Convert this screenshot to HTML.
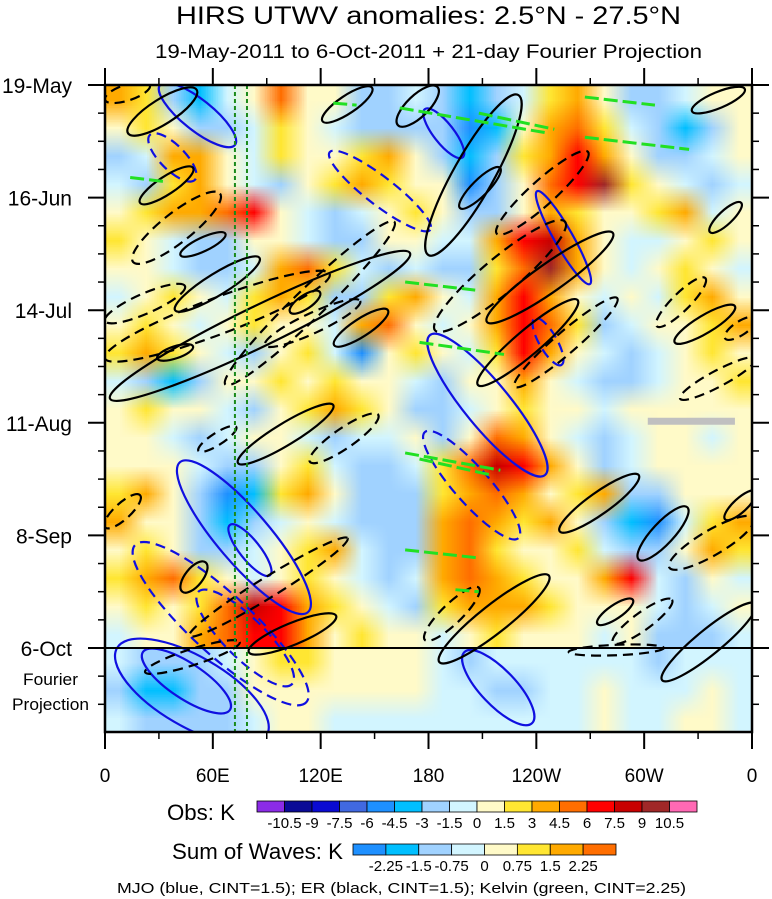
<!DOCTYPE html>
<html><head><meta charset="utf-8">
<style>
html,body{margin:0;padding:0;background:#fff;}
body{width:772px;height:899px;overflow:hidden;position:relative;font-family:"Liberation Sans",sans-serif;}
canvas{position:absolute;image-rendering:auto;}
#chart{position:absolute;left:0;top:0;}
svg text{font-family:"Liberation Sans",sans-serif;}
</style></head>
<body>
<canvas id="obsCanvas" width="24" height="20" style="left:105px;top:85px;width:647px;height:563px;"></canvas>
<canvas id="projCanvas" width="24" height="3" style="left:105px;top:648px;width:647px;height:84px;"></canvas>
<svg id="chart" width="772" height="899" viewBox="0 0 772 899" xmlns="http://www.w3.org/2000/svg">
<defs></defs>
<text x="176" y="24" font-size="25" textLength="505" lengthAdjust="spacingAndGlyphs">HIRS UTWV anomalies: 2.5°N - 27.5°N</text>
<text x="155" y="58" font-size="19" textLength="547" lengthAdjust="spacingAndGlyphs">19-May-2011 to 6-Oct-2011 + 21-day Fourier Projection</text>
<g id="contours" clip-path="url(#plotClip)"></g>
<g id="axes"></g>
<g id="legend"></g>
<text x="117" y="893" font-size="15" textLength="569" lengthAdjust="spacingAndGlyphs">MJO (blue, CINT=1.5); ER (black, CINT=1.5); Kelvin (green, CINT=2.25)</text>
</svg>
<script>
// ---------- data ----------
const dateLabels = ["19-May","16-Jun","14-Jul","11-Aug","8-Sep","6-Oct"];
const dateDays = [0,28,56,84,112,140];
const lonLabels = ["0","60E","120E","180","120W","60W","0"];
const lonValues = [0,60,120,180,240,300,360];
const obsLevels = [-10.5,-9,-7.5,-6,-4.5,-3,-1.5,0,1.5,3,4.5,6,7.5,9,10.5];
const obsLevelLabels = ["-10.5","-9","-7.5","-6","-4.5","-3","-1.5","0","1.5","3","4.5","6","7.5","9","10.5"];
const obsColors = ["#8b2be6","#0a0a96","#0a0ad2","#4169e1","#1e90ff","#00bfff","#a0d2ff","#d2f5ff","#fffac8","#ffe632","#ffaa00","#ff6e00","#ff0000","#c80000","#a02828","#ff69b4"];
const wavLevels = [-2.25,-1.5,-0.75,0,0.75,1.5,2.25];
const wavLevelLabels = ["-2.25","-1.5","-0.75","0","0.75","1.5","2.25"];
const wavColors = ["#1e90ff","#00bfff","#a0d2ff","#d2f5ff","#fffac8","#ffe632","#ffaa00","#ff6e00"];
// Obs anomalies (K): 20 time rows x 24 longitude columns (15 deg each)
const obsRows = [
[3,2,-2,-4,-1,1,5,1,0,-2,-3,-1,-2,-4,-3,-1,2,4,1,-2,-3,-1,0,1],
[1,2,0,-2,-3,-1,2,0,-1,-2,-3,-2,-3,-5,-4,0,3,5,2,-1,-3,-4,-2,0],
[-2,-1,3,4,1,-1,2,0,1,2,3,1,-3,-4,-2,2,4,6,3,0,-2,-3,-1,1],
[-1,-3,2,3,0,-1,-2,1,2,3,2,1,0,-5,-3,1,5,7,10,2,0,-1,-2,-1],
[0,2,3,4,5,6,1,-1,-2,-1,0,2,1,-2,-3,0,3,2,1,0,2,3,-1,0],
[2,1,-1,-3,-2,0,1,-1,-3,-2,0,1,-1,-1,3,6,8,4,0,-1,-1,1,2,0],
[1,0,-1,-2,-3,-1,3,5,2,-1,-2,-1,-2,-2,2,5,9,3,0,-1,0,2,1,-1],
[-1,1,2,0,-1,2,4,2,-3,-2,2,3,0,-1,3,6,4,1,-1,0,-1,2,4,1],
[0,2,1,-1,0,2,1,0,-1,3,5,1,-1,1,4,7,5,2,-2,-1,0,1,2,3],
[2,3,2,0,-1,-2,1,2,-1,-5,1,2,0,-1,2,6,3,0,-1,-2,-1,1,2,1],
[-1,-2,-4,-2,0,1,2,1,2,1,0,-1,-2,0,1,3,1,-1,-2,-3,-1,0,1,2],
[1,2,1,0,-1,-2,1,2,3,2,0,-2,-3,-1,1,2,1,0,-1,0,1,0,0,1],
[0,1,-1,-2,-1,0,1,-1,-2,-1,-1,0,-2,1,5,4,1,-1,-2,-1,0,1,-1,0],
[1,0,1,-1,-3,-2,1,2,-1,-2,-3,-1,2,5,8,7,3,0,-2,-1,1,0,1,0],
[2,3,1,-3,-5,-4,2,3,0,-2,-3,-2,2,4,5,3,1,2,3,-2,-3,1,0,1],
[3,1,0,-2,-4,-3,-1,1,-1,-2,-3,-2,3,5,4,2,3,1,-3,-4,-5,-1,2,3],
[1,2,0,-2,-3,-1,0,2,4,-1,-2,-3,4,5,2,1,0,2,-1,-3,-2,0,3,2],
[2,3,5,2,1,-1,0,2,0,-1,-2,-1,3,5,3,2,1,0,4,6,-1,-2,1,-1],
[1,2,1,2,5,8,7,3,2,1,-1,-2,2,3,4,3,2,1,0,1,-1,-3,-1,0],
[-1,0,1,3,5,7,6,3,1,2,1,0,-1,1,2,1,0,1,-1,0,-2,-3,-2,-1]
];
// Fourier projection (sum of waves, K): 3 rows x 24 columns
const projRows = [
[-0.5,-1,-1.5,-1,-0.6,0.3,0.9,0.8,0.4,0.2,0.3,0.2,-0.3,-0.8,-0.5,-0.3,-0.6,-0.2,-0.3,-0.5,-0.8,-0.4,-0.3,-0.3],
[-0.8,-1.6,-1.7,-1.2,-0.9,0.2,0.5,0.4,0.2,0.3,0.5,0.3,-0.2,-0.4,-0.8,-0.8,-0.5,-0.3,0.2,-0.3,-0.4,-0.2,0.3,-0.2],
[-0.4,-1.0,-1.2,-1.0,-0.8,-0.3,0.2,0.1,-0.2,-0.1,-0.2,-0.1,-0.2,-0.3,-0.4,-0.3,-0.2,-0.1,0.3,-0.2,-0.3,0.3,0.4,-0.3]
];
// Contours: [lon1, day1, lon2, day2, halfWidthDays]
const mjoPos = [[30.6,0,72.3,14.9,3.8],[240.4,26.4,269.8,49.5,2.3],[180.8,62.2,244.8,97,5.6],[41.7,93.8,112.9,131.1,6.5],[69.5,109.4,91.8,121.9,2.5],[21.1,141,69.5,155.4,4.4],[6.7,140,90,161.7,8.7],[200,141,237.6,158.7,4.4],[178,6,199,18,2.5]];
const mjoNeg = [[25,12.4,50,23.6,3.1],[125,16.7,181,36,3.5],[239,58,254,69.6,2.2],[178,86.3,230,112.7,4.4],[16.7,114.4,112,153.5,7.5],[52,126,104,149,5]];
const erPos = [[12.8,12,51,1.2,3.1],[121,9,148.6,0.7,2.2],[19.5,29.3,49,20.6,2.2],[42,42.3,67,37,1.7],[39,56,86,43,2.7],[2.8,78,169.7,41.8,5],[103,56.5,119.6,51.5,1.7],[127.5,64.7,157.4,56,2.2],[29,68,49,65,1.5],[180,42.3,230,2.5,5],[197.5,30.6,219.8,20.6,2],[212.5,58.9,282.6,36.8,3.5],[207.5,74.6,263,53.5,3.1],[336.6,36.6,354,29.3,1.7],[317,64,350.5,55,2.2],[326.6,6.5,356,1,2],[163,10,185,0.5,2.7],[74,94,127,79.6,2.7],[43,126,56,118.7,2.2],[80,141,128.6,132,2.7],[186,143.5,247,122,3.5],[253,111,297,97,2.7],[297,118,324,105,2.7],[274,134,293.7,128,1.7],[310,148,362,129,3.1],[345,108,362,101,1.7]];
const erNeg = [[0,3.7,25,0,2],[15.6,44,64,27,3.7],[0,58.7,44.5,50,2.5],[0,68,125,47,4.5],[67,74.5,161,34,3.7],[89,64.7,142,53.7,2.5],[218,37,268.7,16.6,3.1],[183.6,61,256,34,4.4],[228,75,285,53,2.7],[307,60,334,48,2.2],[345,63,362,58,1.7],[320,78,362,68,2],[52,91,73,85,1.5],[114,93.7,152,82,2.5],[0,110,19.5,102,2],[47,137,135,112.7,2.5],[22.3,146,75,138.5,2],[258,141,311,140,1.3],[282.6,138.7,315.5,128,2.2],[314,120,361,107.7,3.1],[178,138,208,125,2.5]];
const kelvin = [[164,5.7,247,12],[208,7,250,11],[267,3,306,5],[267,13,325,16],[14,23,33,24],[167,49,206,51],[175,64,222,67],[167,91.5,220,95.8],[175,93,215,97],[167,115.6,208,117.6],[195,125.5,208,126],[127,4.5,140,5]];
const refLons = [72.3,79];
const missingBar = [302,83.6,350.5];

// ---------- scales ----------
const X0=105,X1=752,Y0=85,Y6=648,YB=732;
const xS = lon => X0 + lon/360*(X1-X0);
const yS = day => Y0 + day/140*(Y6-Y0);
const NS="http://www.w3.org/2000/svg";
function mk(tag,attrs,parent){const e=document.createElementNS(NS,tag);for(const k in attrs)e.setAttribute(k,attrs[k]);parent.appendChild(e);return e;}
function colorFor(v,levels,colors){let i=0;while(i<levels.length&&v>=levels[i])i++;return colors[i];}

// heatmaps: one canvas pixel per data cell, smoothly upscaled by the browser
function paint(id,rows,levels,colors){
  const cv=document.getElementById(id),ctx=cv.getContext('2d');
  rows.forEach((row,r)=>row.forEach((v,c)=>{ctx.fillStyle=colorFor(v,levels,colors);ctx.fillRect(c,r,1,1);}));
}
paint('obsCanvas',obsRows,obsLevels,obsColors);
paint('projCanvas',projRows,wavLevels,wavColors);

// contours
const svg=document.getElementById('chart');
const pc=mk('clipPath',{id:'plotClip'},svg.querySelector('defs'));
mk('rect',{x:X0,y:Y0,width:X1-X0,height:YB-Y0},pc);
const cg=document.getElementById('contours');
function ell(d,color,dash,name){
  const x1=xS(d[0]),y1=yS(d[1]),x2=xS(d[2]),y2=yS(d[3]);
  const cx=(x1+x2)/2,cy=(y1+y2)/2,rx=Math.hypot(x2-x1,y2-y1)/2;
  const ry=Math.max(2,d[4]*(Y6-Y0)/140);
  const ang=Math.atan2(y2-y1,x2-x1)*180/Math.PI;
  const e=mk('ellipse',{cx:cx,cy:cy,rx:rx,ry:ry,transform:`rotate(${ang} ${cx} ${cy})`,fill:'none',stroke:color,'stroke-width':2.2},cg);
  if(dash)e.setAttribute('stroke-dasharray','10 6');
  
  
}
mjoPos.forEach(d=>ell(d,'#1010e0',false,'mjo-positive-contour'));
mjoNeg.forEach(d=>ell(d,'#1010e0',true,'mjo-negative-contour'));
erPos.forEach(d=>ell(d,'#000',false,'er-positive-contour'));
erNeg.forEach(d=>ell(d,'#000',true,'er-negative-contour'));
kelvin.forEach(d=>{
  const e=mk('line',{x1:xS(d[0]),y1:yS(d[1]),x2:xS(d[2]),y2:yS(d[3]),stroke:'#22e022','stroke-width':3,'stroke-dasharray':'14 5'},cg);
  
  
});
refLons.forEach(l=>{
  const e=mk('line',{x1:xS(l),y1:Y0,x2:xS(l),y2:YB,stroke:'#1a8a1a','stroke-width':2,'stroke-dasharray':'4 3'},cg);
  
  
});
{const e=mk('line',{x1:xS(missingBar[0]),y1:yS(missingBar[1]),x2:xS(missingBar[2]),y2:yS(missingBar[1]),stroke:'#c0c0c0','stroke-width':7},cg);
 
 }

// axes
const ax=document.getElementById('axes');
{const e=mk('rect',{x:X0,y:Y0,width:X1-X0,height:YB-Y0,fill:'none',stroke:'#000','stroke-width':2.5},ax);
 }
{const e=mk('line',{x1:X0,y1:Y6,x2:X1,y2:Y6,stroke:'#000','stroke-width':2},ax);
 }
dateDays.forEach((d,i)=>{
  const y=yS(d);
  mk('line',{x1:X0-17,y1:y,x2:X0,y2:y,stroke:'#000','stroke-width':2},ax);
  mk('line',{x1:X1,y1:y,x2:X1+17,y2:y,stroke:'#000','stroke-width':2},ax);
  const t=mk('text',{x:72,y:y+8,'font-size':21,'text-anchor':'end'},ax);
  t.textContent=dateLabels[i];
  
  
});
for(let d=7;d<161;d+=7){if(d%28===0)continue;const y=yS(d);mk('line',{x1:X0-7,y1:y,x2:X0,y2:y,stroke:'#000','stroke-width':1.5},ax);mk('line',{x1:X1,y1:y,x2:X1+7,y2:y,stroke:'#000','stroke-width':1.5},ax);}
lonValues.forEach((l,i)=>{
  const x=xS(l);
  mk('line',{x1:x,y1:YB,x2:x,y2:YB+17,stroke:'#000','stroke-width':2},ax);
  mk('line',{x1:x,y1:Y0-17,x2:x,y2:Y0,stroke:'#000','stroke-width':2},ax);
  const t=mk('text',{x:x,y:YB+50,'font-size':19,'text-anchor':'middle'},ax);
  t.textContent=lonLabels[i];
  
  
});
for(let l=30;l<360;l+=60){const x=xS(l);mk('line',{x1:x,y1:Y0-7,x2:x,y2:Y0,stroke:'#000','stroke-width':1.5},ax);mk('line',{x1:x,y1:YB,x2:x,y2:YB+7,stroke:'#000','stroke-width':1.5},ax);}
[["Fourier",685,23,55],["Projection",710,12,77]].forEach(p=>{
  const t=mk('text',{x:p[2],y:p[1],'font-size':17,textLength:p[3],lengthAdjust:'spacingAndGlyphs'},ax);
  t.textContent=p[0];
  
  
});

// colorbars
const lg=document.getElementById('legend');
function bar(x0,x1,y,h,colors,labels,title,tx,tw,ty,name){
  const w=(x1-x0)/colors.length;
  colors.forEach((c,i)=>{const r=mk('rect',{x:x0+i*w,y:y,width:w,height:h,fill:c,stroke:'#000','stroke-width':0.8},lg);
    });
  labels.forEach((s,i)=>{const t=mk('text',{x:x0+(i+1)*w,y:y+h+16,'font-size':15,'text-anchor':'middle'},lg);t.textContent=s;
    });
  const t=mk('text',{x:tx,y:ty,'font-size':22,textLength:tw,lengthAdjust:'spacingAndGlyphs'},lg);t.textContent=title;
  
}
bar(257,697,801,11,obsColors,obsLevelLabels,"Obs: K",167,68,820,'obs-colorbar');
bar(353,616,844,11,wavColors,wavLevelLabels,"Sum of Waves: K",172,171,859,'waves-colorbar');
</script>
</body></html>
